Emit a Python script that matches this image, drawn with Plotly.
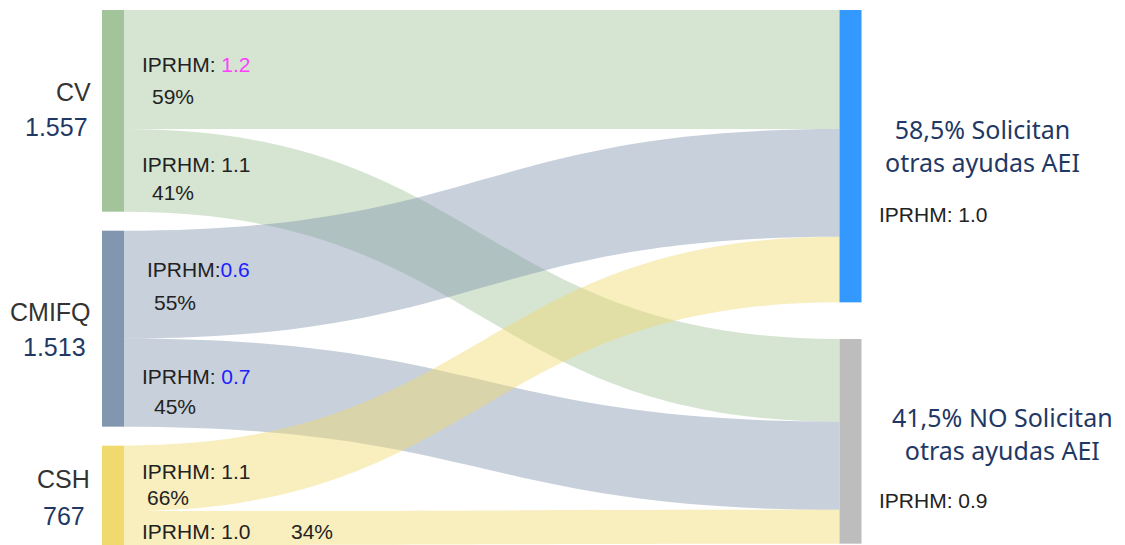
import plotly.graph_objects as go

# ---------------- data ----------------
node_names = ["CV", "CMIFQ", "CSH", "Solicitan", "NO Solicitan"]
node_totals = ["1.557", "1.513", "767"]
node_colors = ["#a3c49b", "#8396b0", "#f0da6e", "#3399ff", "#bdbdbd"]

link_source = [0, 0, 1, 1, 2, 2]
link_target = [3, 4, 3, 4, 3, 4]
link_values = [919, 638, 832, 681, 506, 261]
link_iprhm = ["1.2", "1.1", "0.6", "0.7", "1.1", "1.0"]
link_pct = ["59%", "41%", "55%", "45%", "66%", "34%"]
link_colors = ["rgba(163,196,155,0.45)", "rgba(163,196,155,0.45)",
               "rgba(131,150,176,0.45)", "rgba(131,150,176,0.45)",
               "rgba(240,218,110,0.45)", "rgba(240,218,110,0.45)"]

target_pct = ["58,5%", "41,5%"]
target_iprhm = ["1.0", "0.9"]

# ---------------- layout geometry ----------------
W, HFIG = 1125, 545
TOP = 10
H = HFIG - TOP            # sankey domain height
PAD = 19
total = sum(link_values)
ky = (H - 2 * PAD) / total

src_tot = [sum(v for s, v in zip(link_source, link_values) if s == i) for i in range(3)]
tgt_tot = [sum(v for t, v in zip(link_target, link_values) if t == i) for i in (3, 4)]

ys = []
top = 0
for t in src_tot:
    h = t * ky
    ys.append((top + h / 2) / H)
    top += h + PAD
# targets
ys.append((tgt_tot[0] * ky / 2) / H)
no_top = 329
ys.append((no_top + tgt_tot[1] * ky / 2) / H)

xs = [113 / W, 113 / W, 113 / W, 850.5 / W, 850.5 / W]

fig = go.Figure(go.Sankey(
    arrangement="fixed",
    domain=dict(x=[0, 1], y=[0, H / HFIG]),
    node=dict(
        label=[""] * len(node_names),
        customdata=node_names,
        hovertemplate="%{customdata}: %{value}<extra></extra>",
        color=node_colors,
        pad=PAD,
        thickness=22,
        line=dict(width=0),
        x=xs,
        y=ys,
    ),
    link=dict(
        source=link_source,
        target=link_target,
        value=link_values,
        color=link_colors,
    ),
))

ann = []
def add(text, x, y, size, color="#222222", family="Liberation Sans, Arial, sans-serif",
        xanchor="left"):
    ann.append(dict(text=text, x=x / W, y=1 - y / HFIG, xref="paper", yref="paper",
                    xanchor=xanchor, yanchor="middle", showarrow=False,
                    font=dict(size=size, color=color, family=family)))

# left node labels
name_pos = [(73, 92), (50, 312), (63.5, 479)]
tot_pos = [(56, 127), (54.5, 347), (63.5, 516)]
for i in range(3):
    add(node_names[i], name_pos[i][0], name_pos[i][1], 25, "#333333", xanchor="center")
    add(node_totals[i], tot_pos[i][0], tot_pos[i][1], 25, "#1f3864", xanchor="center")

# link labels
iprhm_colors = ["#ff40ff", "#222222", "#2020ff", "#2020ff", "#222222", "#222222"]
iprhm_sep = [" ", " ", "", " ", " ", " "]
iprhm_pos = [(140, 65), (140, 164), (145, 269), (140, 376), (140, 471), (140, 531)]
pct_pos = [(150, 96), (150, 193), (152, 302), (152, 406), (145, 497), (289, 531)]
for i in range(6):
    add("IPRHM:" + iprhm_sep[i] + "<span style='color:%s'>%s</span>" % (iprhm_colors[i], link_iprhm[i]),
        iprhm_pos[i][0], iprhm_pos[i][1], 21)
    add(link_pct[i], pct_pos[i][0], pct_pos[i][1], 21)

# right node labels
rfont = "Noto Sans, sans-serif"
add(target_pct[0] + " Solicitan<br>otras ayudas AEI", 982, 145.5, 25, "#1f3864", rfont, "center")
add("IPRHM: " + target_iprhm[0], 877, 214, 21)
add(target_pct[1] + " NO Solicitan<br>otras ayudas AEI", 1002, 433.5, 25, "#1f3864", rfont, "center")
add("IPRHM: " + target_iprhm[1], 877, 500, 21)

fig.update_layout(
    width=W, height=HFIG,
    margin=dict(l=0, r=0, t=0, b=0),
    paper_bgcolor="white",
    plot_bgcolor="white",
    annotations=ann,
    showlegend=False,
)

fig.write_html("out.html")
